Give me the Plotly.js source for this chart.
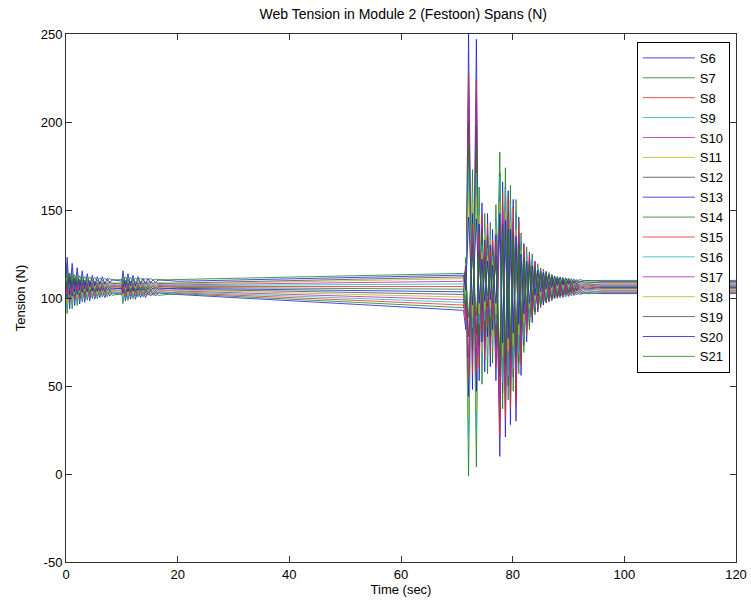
<!DOCTYPE html>
<html>
<head>
<meta charset="utf-8">
<script src="https://cdn.plot.ly/plotly-3.0.1.min.js"></script>
<style>html,body{margin:0;padding:0;background:#fff;}#chart{width:751px;height:607px;}</style>
</head>
<body>
<div id="chart"></div>
<script>
// Time samples (sec)
const time = [0, 0.2, 0.65, 1.1, 1.55, 2, 2.45, 2.9, 3.35, 3.8, 4.25, 4.7, 5.15, 5.6, 6.05, 6.5, 6.95, 7.4, 7.85, 8.3,
  10, 10.2, 10.65, 11.1, 11.55, 12, 12.45, 12.9, 13.35, 13.8, 14.25, 14.7, 15.15, 15.6, 16.05, 16.5,
  20, 71.2,
  71.6, 72.1, 72.8, 73.5, 74, 74.5, 75, 75.5, 76, 76.4, 77, 77.7, 78.2, 78.7, 79.2, 79.6, 80.1, 80.6, 81.1, 81.5, 82, 82.5, 83, 83.5, 84, 84.5, 85, 85.5, 86, 86.5, 87, 87.5, 88, 88.5, 89, 89.5, 90, 90.5, 91, 91.5, 92, 93,
  96, 120];

const seriesNames = ["S6","S7","S8","S9","S10","S11","S12","S13","S14","S15","S16","S17","S18","S19","S20","S21"];

const s6 = [103.8,116.4,93.9,112.8,95.7,110.1,96.6,108.3,97.5,106.5,98.4,105.6,99.3,104.7,100.2,104.7,100.2,103.8,101.1,102.9,
  102,108.3,98.4,106.5,99.3,105.6,99.3,104.7,100.2,103.8,100.2,103.8,101.1,102.9,101.1,102.9,
  102,93,
  82,250,48,247,53,154,58,148,61,139,53,145,64,140,67,134,70,130,75,119,82,115,89,112,93.7,109.7,95.9,108.0,97.5,106.9,98.6,105.8,99.8,105.3,100.3,104.7,100.9,104.2,101.4,103.6,102.0,103.1,
  102.5,102.5];
const s7 = [100.6,91.1,113.9,93.9,111.1,95.8,109.2,97.7,108.2,98.7,107.3,99.6,106.3,99.6,105.4,100.6,104.4,100.6,104.4,101.5,
  102.5,96.8,107.3,98.7,106.3,99.6,105.4,100.6,105.4,100.6,104.4,101.5,104.4,101.5,103.5,101.5,
  102.5,94.5,
  123,-1,173,4,163,51,148,57,143,63,153,45,139,52,136,56,133,57,127,73,118,84,115,91,112.0,94.6,109.6,97.0,108.4,98.2,107.2,99.4,106.0,100.0,105.4,100.6,104.8,101.2,104.2,101.8,103.6,102.4,
  103,103];
const s8 = [104.2,112.6,97.6,110.2,98.8,108.4,99.4,107.2,100.0,106.0,100.6,105.4,101.2,104.8,101.8,104.8,101.8,104.2,102.4,103.6,
  103.0,107.2,100.6,106.0,101.2,105.4,101.2,104.8,101.8,104.2,101.8,104.2,102.4,103.6,102.4,103.6,
  103,96,
  87,227,57,224,61,147,65,142,68,134,61,157,55,151,58,144,62,139,69,125,77,119,86,116,92.3,112.6,95.1,110.5,97.2,109.1,98.6,107.7,100.0,107.0,100.7,106.3,101.4,105.6,102.1,104.9,102.8,104.2,
  103.5,103.5];
const s9 = [101.9,93.9,113.1,96.3,110.7,97.9,109.1,99.5,108.3,100.3,107.5,101.1,106.7,101.1,105.9,101.9,105.1,101.9,105.1,102.7,
  103.5,98.7,107.5,100.3,106.7,101.1,105.9,101.9,105.9,101.9,105.1,102.7,105.1,102.7,104.3,102.7,
  103.5,97.5,
  120,21,160,25,152,62,140,67,136,72,144,32,149,40,145,46,142,47,134,67,123,81,119,89,115.3,93.5,112.3,96.5,110.8,98.0,109.3,99.5,107.8,100.3,107.0,101.0,106.3,101.8,105.5,102.5,104.8,103.3,
  104,104];
const s10 = [105,112,99.5,110,100.5,108.5,101,107.5,101.5,106.5,102,106,102.5,105.5,103,105.5,103,105,103.5,104.5,
  104,107.5,102,106.5,102.5,106,102.5,105.5,103,105,103,105,103.5,104.5,103.5,104.5,
  104,99,
  90,213,63,211,67,143,71,138,73,132,67,155,59,149,62,142,66,137,72,124,80,119,88,116,94.1,113.0,96.7,111.0,98.7,109.7,100.0,108.4,101.3,107.8,101.9,107.1,102.6,106.5,103.2,105.8,103.9,105.2,
  104.5,104.5];
const s11 = [103.2,96.7,112.3,98.6,110.4,99.9,109.1,101.2,108.4,101.9,107.8,102.5,107.1,102.5,106.5,103.2,105.8,103.2,105.8,103.8,
  104.5,100.6,107.8,101.9,107.1,102.5,106.5,103.2,106.5,103.2,105.8,103.8,105.8,103.8,105.2,103.8,
  104.5,100.5,
  119,32,154,36,147,69,137,73,133,77,140,28,153,37,149,43,145,44,137,65,125,80,121,89,117.0,93.8,113.8,97.0,112.2,98.6,110.6,100.2,109.0,101.0,108.2,101.8,107.4,102.6,106.6,103.4,105.8,104.2,
  105,105];
const s12 = [106.1,113.8,100.0,111.6,101.1,110.0,101.7,108.9,102.2,107.8,102.8,107.2,103.3,106.7,103.9,106.7,103.9,106.1,104.4,105.6,
  105,108.9,102.8,107.8,103.3,107.2,103.3,106.7,103.9,106.1,103.9,106.1,104.4,105.6,104.4,105.6,
  105,102,
  93,200,70,198,73,139,76,135,78,129,73,171,46,163,50,155,55,148,63,131,73,124,84,121,91.9,116.6,95.3,114.0,97.9,112.3,99.6,110.6,101.3,109.8,102.1,108.9,103.0,108.1,103.8,107.2,104.7,106.4,
  105.5,105.5];
const s13 = [104.5,99.5,111.5,101,110,102,109,103,108.5,103.5,108,104,107.5,104,107,104.5,106.5,104.5,106.5,105,
  105.5,102.5,108,103.5,107.5,104,107,104.5,107,104.5,106.5,105,106.5,105,106,105,
  105.5,103.5,
  118,44,148,47,142,75,133,78,130,82,136,10,166,21,161,28,156,30,146,56,131,75,126,86,121,92,117,96,115,98,113,100,111,101,110,102,109,103,108,104,107,105,
  106,106];
const s14 = [107.2,115.6,100.6,113.2,101.8,111.4,102.4,110.2,103.0,109.0,103.6,108.4,104.2,107.8,104.8,107.8,104.8,107.2,105.4,106.6,
  106,110.2,103.6,109.0,104.2,108.4,104.2,107.8,104.8,107.2,104.8,107.2,105.4,106.6,105.4,106.6,
  106,105,
  96,186,76,185,79,135,82,131,83,126,79,183,37,174,42,164,47,156,57,137,69,129,82,125,90.5,119.5,94.5,116.5,97.5,114.5,99.5,112.5,101.5,111.5,102.5,110.5,103.5,109.5,104.5,108.5,105.5,107.5,
  106.5,106.5];
const s15 = [105.7,101.7,111.3,102.9,110.1,103.7,109.3,104.5,108.9,104.9,108.5,105.3,108.1,105.3,107.7,105.7,107.3,105.7,107.3,106.1,
  106.5,104.1,108.5,104.9,108.1,105.3,107.7,105.7,107.7,105.7,107.3,106.1,107.3,106.1,106.9,106.1,
  106.5,106.5,
  117,55,142,58,137,81,130,84,127,87,132,21,161,31,157,37,152,39,143,62,130,79,125,89,120.5,94.4,116.9,98.0,115.1,99.8,113.3,101.6,111.5,102.5,110.6,103.4,109.7,104.3,108.8,105.2,107.9,106.1,
  107,107];
const s16 = [108.4,118.2,100.7,115.4,102.1,113.3,102.8,111.9,103.5,110.5,104.2,109.8,104.9,109.1,105.6,109.1,105.6,108.4,106.3,107.7,
  107,111.9,104.2,110.5,104.9,109.8,104.9,109.1,105.6,108.4,105.6,108.4,106.3,107.7,106.3,107.7,
  107,108,
  98.5,173,83,171,85,130,87,128,89,124,85,169,52,162,56,154,60,148,68,132,77,125,88,122,94.7,117.9,97.9,115.5,100.3,113.9,101.9,112.3,103.5,111.5,104.3,110.7,105.1,109.9,105.9,109.1,106.7,108.3,
  107.5,107.5];
const s17 = [106.8,103.3,111.7,104.3,110.7,105.0,110.0,105.7,109.6,106.1,109.3,106.4,108.9,106.4,108.6,106.8,108.2,106.8,108.2,107.1,
  107.5,105.4,109.3,106.1,108.9,106.4,108.6,106.8,108.6,106.8,108.2,107.1,108.2,107.1,107.9,107.1,
  107.5,109.5,
  116,66,136,68,132,87,126,90,124,92,128,41,150,49,147,53,143,55,136,73,126,86,122,94,118.5,98.2,115.7,101.0,114.3,102.4,112.9,103.8,111.5,104.5,110.8,105.2,110.1,105.9,109.4,106.6,108.7,107.3,
  108,108];
const s18 = [109.5,120.0,101.2,117.0,102.7,114.8,103.5,113.3,104.2,111.8,105.0,111.0,105.7,110.3,106.5,110.3,106.5,109.5,107.2,108.8,
  108,113.3,105.0,111.8,105.7,111.0,105.7,110.3,106.5,109.5,106.5,109.5,107.2,108.8,107.2,108.8,
  108,111,
  101.5,159,89,158,91,126,93,124,94,121,91,155,66.5,149,70,143,73,139,79,127,86,122,94,119,98.9,116.3,101.3,114.5,103.1,113.3,104.3,112.1,105.5,111.5,106.1,110.9,106.7,110.3,107.3,109.7,107.9,109.1,
  108.5,108.5];
const s19 = [107.9,104.9,112.1,105.8,111.2,106.4,110.6,107.0,110.3,107.3,110.0,107.6,109.7,107.6,109.4,107.9,109.1,107.9,109.1,108.2,
  108.5,106.7,110.0,107.3,109.7,107.6,109.4,107.9,109.4,107.9,109.1,108.2,109.1,108.2,108.8,108.2,
  108.5,112,
  115,78,130,79,127,93,123,95,121,97,124,56,142,62,139,66,137,67,131,82,123,92,120,98,117.3,101.3,115.1,103.5,114.0,104.6,112.9,105.7,111.8,106.3,111.2,106.8,110.7,107.4,110.1,107.9,109.6,108.5,
  109,109];
const s20 = [111.2,123.1,101.8,119.7,103.5,117.2,104.4,115.5,105.2,113.8,106.1,112.9,106.9,112.1,107.8,112.1,107.8,111.2,108.6,110.4,
  109.5,115.5,106.1,113.8,106.9,112.9,106.9,112.1,107.8,111.2,107.8,111.2,108.6,110.4,108.6,110.4,
  109.5,113,
  104.5,146,96,145,97,122,98,121,99,118.5,97,148,74.5,144,77,139,80,135,85,125,91,121,97,118.5,101.5,116.0,103.5,114.5,105.0,113.5,106.0,112.5,107.0,112.0,107.5,111.5,108.0,111.0,108.5,110.5,109.0,110.0,
  109.5,109.5];
const s21 = [109.9,106.9,114.1,107.8,113.2,108.4,112.6,109.0,112.3,109.3,112.0,109.6,111.7,109.6,111.4,109.9,111.1,109.9,111.1,110.2,
  110.5,108.7,112.0,109.3,111.7,109.6,111.4,109.9,111.4,109.9,111.1,110.2,111.1,110.2,110.8,110.2,
  110.5,114,
  114,89,124,90,122,100,119,101,118,102,120,67,137,72,135,75,132.5,76,128,87.5,121,96,119,101,116.8,103.7,115.0,105.5,114.1,106.4,113.2,107.3,112.3,107.8,111.8,108.2,111.4,108.7,110.9,109.1,110.5,109.6,
  110,110];

const seriesValues = [s6,s7,s8,s9,s10,s11,s12,s13,s14,s15,s16,s17,s18,s19,s20,s21];
const palette = ["#1a1ae0","#1a801a","#e02a2a","#20b5b5","#b520b5","#b5b520","#4a4a4a"];
const xTicks = [0,20,40,60,80,100,120];
const yTicks = [-50,0,50,100,150,200,250];

const traces = seriesNames.map((name, i) => ({
  x: time, y: seriesValues[i], name: name, type: "scatter", mode: "lines",
  line: {color: palette[i % palette.length], width: 0.8}
}));

const font = {family: "Liberation Sans, Arial, Helvetica, sans-serif", size: 13, color: "#000"};

const layout = {
  width: 751, height: 607,
  margin: {l: 66, r: 15, t: 34, b: 45},
  paper_bgcolor: "#fff", plot_bgcolor: "#fff",
  font: font,
  title: {text: "Web Tension in Module 2 (Festoon) Spans (N)", x: 0.537, xanchor: "center", y: 0.977, yanchor: "middle", font: {family: font.family, size: 14, color: "#000"}},
  showlegend: true,
  legend: {x: 0.852, xanchor: "left", y: 0.985, yanchor: "top", bgcolor: "#fff", bordercolor: "#000", borderwidth: 1,
           font: {family: font.family, size: 13, color: "#000"}, itemwidth: 52, tracegroupgap: 0},
  xaxis: {range: [0, 120], tickvals: xTicks, ticktext: xTicks.map(String), ticks: "inside", ticklen: 6, tickcolor: "#333",
          showline: true, linecolor: "#333", linewidth: 1, mirror: "ticks", showgrid: false, zeroline: false,
          title: {text: "Time (sec)", standoff: 4, font: {family: font.family, size: 13, color: "#000"}}},
  yaxis: {range: [-50, 250], tickvals: yTicks, ticktext: yTicks.map(String), ticks: "inside", ticklen: 6, tickcolor: "#333",
          showline: true, linecolor: "#333", linewidth: 1, mirror: "ticks", showgrid: false, zeroline: false,
          title: {text: "Tension (N)", standoff: 12, font: {family: font.family, size: 13, color: "#000"}}}
};

Plotly.newPlot("chart", traces, layout, {displayModeBar: false, staticPlot: true});
</script>
</body>
</html>
